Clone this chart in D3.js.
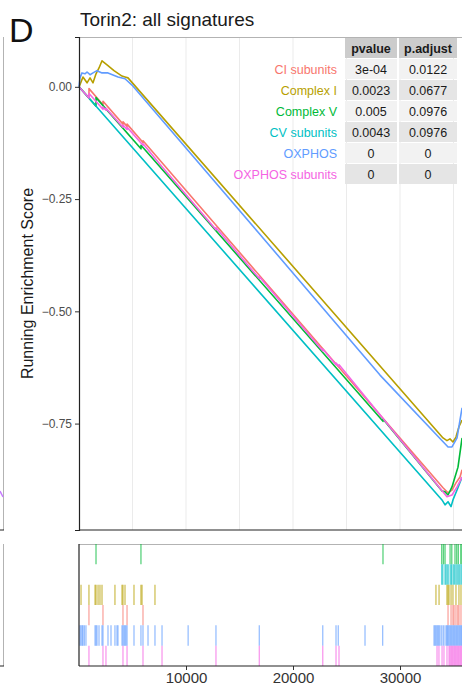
<!DOCTYPE html>
<html>
<head>
<meta charset="utf-8">
<script src="https://cdn.jsdelivr.net/npm/d3@7/dist/d3.min.js"></script>
<style>
  body { margin: 0; background: #fff; }
  text { font-family: "Liberation Sans", Arial, sans-serif; }
</style>
</head>
<body>
<script>
/* GSEA running score panel (D): six signatures, stats table, hit rug below. */

const setNames = ['CI subunits', 'Complex I', 'Complex V', 'CV subunits', 'OXPHOS', 'OXPHOS subunits'];
const pvalues = ['3e-04', '0.0023', '0.005', '0.0043', '0', '0'];
const padjust = ['0.0122', '0.0677', '0.0976', '0.0976', '0', '0'];
const yTicks = [0, -0.25, -0.5, -0.75];
const xTicks = [10000, 20000, 30000];
const gridTicks = [5000, 10000, 15000, 20000, 25000, 30000, 35000];

// running enrichment score, [rank, score]
const esCI = [[0, 0], [930, -0.025], [935, -0.004], [2240, -0.04], [2245, -0.032], [4110, -0.083],
  [4115, -0.078], [4490, -0.088], [4495, -0.083], [5980, -0.124], [5985, -0.12], [34020, -0.893],
  [34490, -0.904], [34860, -0.898], [35230, -0.882], [35610, -0.869], [35800, -0.853]];
const esComplexI = [[0, 0], [190, 0.011], [370, 0.022], [750, 0.009], [1030, 0.02], [1310, 0.009],
  [1590, 0.029], [1870, 0.042], [2150, 0.058], [2620, 0.049], [3270, 0.036], [4020, 0.024],
  [4300, 0.022], [4580, 0.020], [34020, -0.782], [34390, -0.788], [34670, -0.784], [34950, -0.791],
  [35230, -0.780], [35510, -0.757], [35800, -0.742]];
const esComplexV = [[0, 0], [1589, -0.043], [1590, -0.024], [5794, -0.138], [5795, -0.13],
  [28411, -0.745], [28412, -0.74], [33925, -0.90], [34210, -0.902], [34490, -0.909], [34860, -0.891],
  [35140, -0.869], [35420, -0.847], [35800, -0.782]];
const esCV = [[0, 0], [33925, -0.920], [34210, -0.931], [34490, -0.924], [34770, -0.935],
  [34950, -0.920], [35330, -0.898], [35800, -0.869]];
const esOXPHOS = [[0, 0], [93, 0.020], [280, 0.031], [560, 0.029], [750, 0.033], [1030, 0.027],
  [1310, 0.031], [1680, 0.036], [2150, 0.031], [2710, 0.031], [3650, 0.022], [4300, 0.018],
  [4950, 0.004], [16820, -0.326], [28130, -0.642], [34490, -0.802], [34860, -0.802],
  [35330, -0.782], [35610, -0.742], [35800, -0.715]];
const esOXsub = [[0, 0], [930, -0.025], [935, -0.015], [2240, -0.05], [2245, -0.045], [2520, -0.052],
  [2525, -0.048], [4110, -0.09], [4115, -0.085], [4490, -0.095], [4495, -0.09], [5980, -0.13],
  [5985, -0.127], [7760, -0.178], [12800, -0.318], [12805, -0.314], [16850, -0.427], [16855, -0.423],
  [22780, -0.588], [22785, -0.584], [24020, -0.619], [24025, -0.615], [24300, -0.623], [24305, -0.619],
  [34390, -0.913], [34860, -0.909], [35330, -0.891], [35800, -0.869]];

// hit positions (gene ranks) for each signature
const hitsComplexV = [1590, 5790, 28410, 33900, 34060, 34210, 34680, 34840, 35140, 35300, 35450, 35680, 35790];
const hitsCV = [33900, 34000, 34210, 34300, 34420, 34560, 34740, 34830, 34980, 35100, 35230, 35350, 35490, 35600, 35730];
const hitsComplexI = [190, 930, 1500, 1590, 1780, 1960, 2150, 3360, 4020, 4110, 4300, 5140, 5790, 5890, 7100,
  33360, 33650, 34390, 34490, 34580, 34770, 34950, 35230, 35510, 35700];
const hitsCI = [930, 2240, 4110, 4490, 5980, 34490, 34770, 34950, 35050, 35230, 35400, 35510, 35700];
const hitsOXPHOS = [90, 190, 300, 370, 500, 650, 1500, 1590, 1680, 1870, 2150, 2240, 2710, 2990, 3360, 3550,
  3640, 4020, 4110, 4210, 4300, 4390, 4490, 5140, 5790, 5980, 6450, 7100, 7760, 10200, 12800, 16850, 22780,
  24020, 24230, 26730, 28380, 33180, 33270, 33360, 33460, 33550, 33640, 33740, 33900, 34050, 34210, 34360,
  34420, 34510, 34600, 34700, 34790, 34880, 34980, 35070, 35160, 35260, 35350, 35440, 35540, 35630, 35720, 35790];
const hitsOXsub = [930, 2240, 2520, 4110, 4490, 5980, 7760, 12800, 16850, 22780, 24020, 24300,
  33460, 33640, 33930, 34110, 34390, 34580, 34670, 34770, 34860, 34950, 35050, 35140, 35230, 35330,
  35420, 35510, 35610, 35700, 35790];

const rugOrder = ['Complex V', 'CV subunits', 'Complex I', 'CI subunits', 'OXPHOS', 'OXPHOS subunits'];

const scores = {
  'CI subunits': esCI, 'Complex I': esComplexI, 'Complex V': esComplexV,
  'CV subunits': esCV, 'OXPHOS': esOXPHOS, 'OXPHOS subunits': esOXsub,
};
const hits = {
  'CI subunits': hitsCI, 'Complex I': hitsComplexI, 'Complex V': hitsComplexV,
  'CV subunits': hitsCV, 'OXPHOS': hitsOXPHOS, 'OXPHOS subunits': hitsOXsub,
};

const color = d3.scaleOrdinal()
  .domain(setNames)
  .range(['#F8766D', '#B79F00', '#00BA38', '#00BFC4', '#619CFF', '#F564E3']);

const W = 462, H = 691;
const LEFT = 79, TOP = 37, MAIN_BOTTOM = 530, RUG_TOP = 544, RUG_BOTTOM = 666;

const svg = d3.select('body').append('svg')
  .attr('width', W).attr('height', H)
  .style('display', 'block');

const x = d3.scaleLinear().domain([0, 37000]).range([LEFT, LEFT + 37000 * 0.0107]);
const y = d3.scaleLinear().domain([-0.987, 0.111]).range([MAIN_BOTTOM, TOP]);
const rugY = d3.scaleBand().domain(rugOrder).range([RUG_TOP, RUG_BOTTOM]);

// leftover edge of the previous panel
svg.append('line').attr('x1', 3.5).attr('x2', 3.5).attr('y1', TOP).attr('y2', MAIN_BOTTOM)
  .attr('stroke', '#b3b3b3');
svg.append('line').attr('x1', 0).attr('x2', 4).attr('y1', MAIN_BOTTOM).attr('y2', MAIN_BOTTOM)
  .attr('stroke', '#222');
svg.append('line').attr('x1', 3.5).attr('x2', 3.5).attr('y1', RUG_TOP).attr('y2', RUG_BOTTOM)
  .attr('stroke', '#b3b3b3');
svg.append('line').attr('x1', 0).attr('x2', 4).attr('y1', RUG_BOTTOM).attr('y2', RUG_BOTTOM)
  .attr('stroke', '#222');
svg.append('line').attr('x1', 0).attr('x2', 3).attr('y1', 491).attr('y2', 497)
  .attr('stroke', '#c77cff').attr('stroke-width', 1.5);

// panel letter and title
svg.append('text').attr('x', 9).attr('y', 42).attr('font-size', 34).attr('fill', '#111').text('D');
svg.append('text').attr('x', 80).attr('y', 26).attr('font-size', 19).attr('fill', '#1a1a1a')
  .text('Torin2: all signatures');

// main panel
const main = svg.append('g');
main.selectAll('line.grid').data(gridTicks).join('line')
  .attr('class', 'grid')
  .attr('x1', (d) => x(d)).attr('x2', (d) => x(d))
  .attr('y1', TOP).attr('y2', MAIN_BOTTOM)
  .attr('stroke', '#ebebeb').attr('stroke-width', 1);
main.append('line').attr('x1', LEFT).attr('x2', W).attr('y1', TOP + 0.5).attr('y2', TOP + 0.5)
  .attr('stroke', '#b3b3b3');

const line = d3.line().x((d) => x(d[0])).y((d) => y(d[1]));
main.selectAll('path.es').data(setNames).join('path')
  .attr('class', 'es')
  .attr('d', (name) => line(scores[name]))
  .attr('fill', 'none')
  .attr('stroke', (name) => color(name))
  .attr('stroke-width', 1.6)
  .attr('stroke-linejoin', 'round');

const yAxis = main.append('g')
  .attr('transform', `translate(${LEFT},0)`)
  .call(d3.axisLeft(y).tickValues(yTicks).tickFormat(d3.format('.2f')).tickSize(4).tickPadding(3));
yAxis.select('.domain').attr('stroke', '#222').attr('stroke-width', 1.2);
yAxis.selectAll('.tick line').attr('stroke', '#333');
yAxis.selectAll('.tick text').attr('font-size', 12).attr('fill', '#4d4d4d')
  .style('font-family', '"Liberation Sans", Arial, sans-serif');
main.append('line').attr('x1', LEFT).attr('x2', W).attr('y1', MAIN_BOTTOM).attr('y2', MAIN_BOTTOM)
  .attr('stroke', '#222').attr('stroke-width', 1.2);

svg.append('text')
  .attr('transform', `translate(33,${(TOP + MAIN_BOTTOM) / 2}) rotate(-90)`)
  .attr('text-anchor', 'middle').attr('font-size', 16).attr('fill', '#1a1a1a')
  .text('Running Enrichment Score');

// stats table
const table = svg.append('g');
const colX = [345, 399];
const colW = [52, 58];
const headH = 21, rowH = 21, tableTop = 38;
['pvalue', 'p.adjust'].forEach((h, j) => {
  table.append('rect').attr('x', colX[j]).attr('y', tableTop).attr('width', colW[j]).attr('height', headH - 1)
    .attr('fill', '#cccccc');
  table.append('text').attr('x', colX[j] + colW[j] / 2).attr('y', tableTop + 14.5)
    .attr('text-anchor', 'middle').attr('font-size', 12.5).attr('font-weight', 'bold').attr('fill', '#1a1a1a')
    .text(h);
});
setNames.forEach((name, i) => {
  const top = tableTop + headH + i * rowH;
  [pvalues[i], padjust[i]].forEach((v, j) => {
    table.append('rect').attr('x', colX[j]).attr('y', top).attr('width', colW[j]).attr('height', rowH - 1)
      .attr('fill', i % 2 === 0 ? '#f2f2f2' : '#e5e5e5');
    table.append('text').attr('x', colX[j] + colW[j] / 2).attr('y', top + 15)
      .attr('text-anchor', 'middle').attr('font-size', 12.5).attr('fill', '#1a1a1a').text(v);
  });
  table.append('text').attr('x', 337).attr('y', top + 15)
    .attr('text-anchor', 'end').attr('font-size', 12.5).attr('fill', color(name)).text(name);
});

// rug panel
const rug = svg.append('g');
rug.append('line').attr('x1', LEFT).attr('x2', W).attr('y1', RUG_TOP + 0.5).attr('y2', RUG_TOP + 0.5)
  .attr('stroke', '#b3b3b3');
rugOrder.forEach((name) => {
  rug.selectAll(null).data(hits[name]).join('line')
    .attr('x1', (d) => x(d)).attr('x2', (d) => x(d))
    .attr('y1', rugY(name)).attr('y2', rugY(name) + rugY.bandwidth())
    .attr('stroke', color(name)).attr('stroke-opacity', 0.65).attr('stroke-width', 1.3);
});
rug.append('line').attr('x1', LEFT).attr('x2', LEFT).attr('y1', RUG_TOP).attr('y2', RUG_BOTTOM)
  .attr('stroke', '#222').attr('stroke-width', 1.2);
const xAxis = rug.append('g')
  .attr('transform', `translate(0,${RUG_BOTTOM})`)
  .call(d3.axisBottom(x).tickValues(xTicks).tickFormat(d3.format('d')).tickSize(4).tickPadding(2));
xAxis.select('.domain').remove();
xAxis.append('line').attr('x1', LEFT).attr('x2', W).attr('stroke', '#222').attr('stroke-width', 1.2);
xAxis.selectAll('.tick line').attr('stroke', '#333');
xAxis.selectAll('.tick text').attr('font-size', 15).attr('fill', '#333')
  .style('font-family', '"Liberation Sans", Arial, sans-serif');
</script>
</body>
</html>
